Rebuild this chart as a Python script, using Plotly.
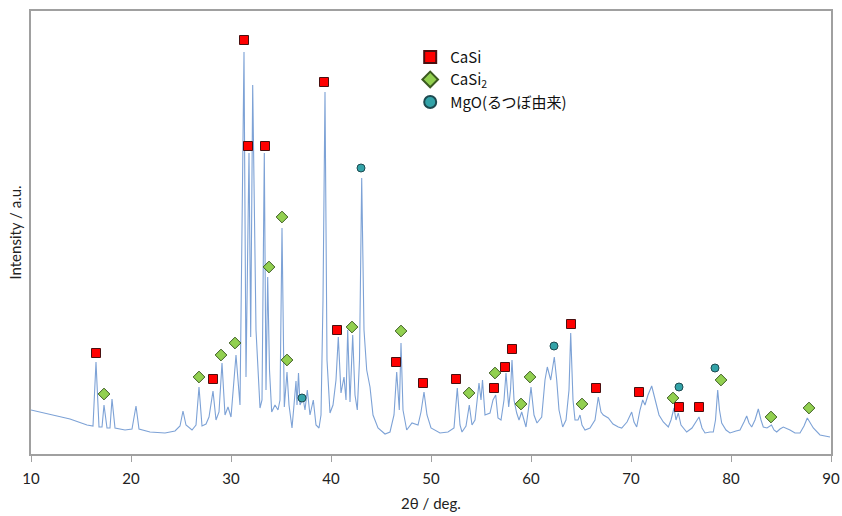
import plotly.graph_objects as go

# XRD pattern (2θ in deg, intensity in a.u.)
two_theta = [10.0, 10.9, 12.4, 13.9, 15.6, 16.2, 16.5, 16.8, 17.1, 17.3, 17.6, 17.9, 18.1, 18.4, 19.4, 20.1, 20.5, 20.8,
             21.9, 23.4, 24.4, 24.9, 25.2, 25.5, 26.1, 26.5, 26.8, 27.1, 27.5, 27.8, 28.2, 28.5, 28.8, 29.1, 29.4, 29.7,
             30.0, 30.5, 30.9, 31.3, 31.5, 31.8, 31.97, 32.17, 32.5, 32.9, 33.1, 33.33, 33.5, 33.67, 33.85, 34.07, 34.4,
             34.7, 34.9, 35.1, 35.33, 35.6, 35.8, 36.1, 36.3, 36.5, 36.6, 36.75, 36.9, 37.2, 37.4, 37.63, 37.9, 38.23,
             38.5, 38.8, 39.0, 39.2, 39.4, 39.6, 39.9, 40.2, 40.5, 40.73, 41.0, 41.3, 41.5, 41.67, 41.9, 42.17, 42.4,
             42.63, 42.85, 43.07, 43.3, 43.57, 43.9, 44.2, 44.7, 45.4, 45.9, 46.3, 46.57, 46.83, 47.0, 47.2, 47.57, 48.1,
             48.7, 49.0, 49.3, 49.6, 50.0, 50.9, 51.7, 52.3, 52.63, 52.9, 53.1, 53.5, 53.83, 54.1, 54.4, 54.8, 55.0,
             55.15, 55.4, 55.9, 56.2, 56.47, 56.7, 57.0, 57.3, 57.5, 57.77, 57.95, 58.1, 58.3, 58.57, 58.8, 59.07, 59.3,
             59.5, 59.8, 60.0, 60.3, 60.6, 61.07, 61.4, 61.63, 61.97, 62.33, 62.57, 62.8, 63.17, 63.5, 63.8, 63.97, 64.2,
             64.4, 64.7, 64.9, 65.1, 65.4, 65.9, 66.4, 66.73, 67.0, 67.23, 67.73, 68.2, 68.73, 69.07, 69.6, 70.07, 70.3,
             70.57, 70.9, 71.17, 71.4, 71.7, 72.07, 72.4, 72.8, 73.23, 73.73, 74.0, 74.3, 74.5, 74.73, 75.0, 75.57, 76.1,
             76.5, 76.8, 77.1, 77.4, 77.9, 78.23, 78.45, 78.67, 78.85, 79.07, 79.5, 79.9, 80.5, 80.9, 81.3, 81.57, 81.8,
             82.07, 82.4, 82.73, 83.0, 83.23, 83.6, 84.05, 84.3, 84.57, 84.9, 85.23, 85.9, 86.4, 86.9, 87.3, 87.63, 87.9,
             88.23, 88.9, 89.4, 89.9]
intensity = [44, 42, 39, 35, 29, 28, 92, 27, 27, 49, 26, 26, 55, 26, 24, 25, 48, 25,
             22, 21, 23, 28, 43, 29, 24, 29, 67, 28, 30, 37, 63, 34, 42, 91, 39, 47,
             37, 99, 49, 402, 77, 301, 117, 369, 124, 46, 54, 301, 64, 177, 84, 42, 49,
             44, 54, 226, 47, 82, 49, 26, 49, 73, 49, 81, 49, 56, 44, 64, 39, 54,
             29, 26, 39, 154, 362, 94, 41, 49, 74, 117, 61, 77, 54, 124, 52, 119, 59,
             44, 94, 276, 124, 84, 67, 39, 26, 20, 22, 39, 82, 44, 111, 44, 24, 31,
             29, 42, 62, 39, 26, 21, 22, 26, 66, 29, 22, 28, 49, 29, 34, 71, 54,
             74, 39, 41, 54, 59, 36, 34, 54, 81, 47, 64, 94, 54, 41, 34, 42, 34,
             27, 49, 67, 39, 31, 37, 74, 87, 74, 97, 74, 44, 27, 34, 64, 121, 54,
             34, 34, 39, 29, 24, 26, 34, 57, 42, 39, 36, 30, 27, 26, 32, 42, 32,
             27, 44, 54, 49, 59, 68, 54, 39, 32, 27, 34, 46, 34, 41, 29, 22, 26,
             32, 37, 26, 21, 22, 22, 34, 64, 44, 31, 24, 21, 23, 24, 32, 38, 31,
             27, 34, 45, 34, 27, 26, 29, 24, 22, 25, 27, 24, 21, 21, 28, 36, 31,
             26, 19, 18, 17]

# Phase markers
casi_x = [16.5, 28.2, 31.3, 31.7, 33.4, 39.3, 40.6, 46.5, 49.2, 52.5, 56.3, 57.4, 58.1, 64.0, 66.5, 70.8, 74.8, 76.8]
casi_y = [101, 75, 414, 308, 308, 372, 124, 92, 71, 75, 66, 87, 105, 130, 66, 62, 47, 47]

casi2_x = [17.3, 26.8, 29.0, 30.4, 33.8, 35.1, 35.6, 42.1, 47.0, 53.8, 56.4, 59.0, 59.9, 65.1, 74.2, 79.0, 84.0, 87.8]
casi2_y = [60, 77, 99, 111, 187, 237, 94, 127, 123, 61, 81, 50, 77, 50, 56, 74, 37, 46]

mgo_x = [37.1, 43.0, 62.3, 74.8, 78.4]
mgo_y = [56, 286, 108, 67, 86]

x_ticks = [10, 20, 30, 40, 50, 60, 70, 80, 90]

fig = go.Figure()
fig.add_trace(go.Scatter(x=two_theta, y=intensity, mode="lines",
                         line=dict(color="#7da2d6", width=1.1), showlegend=False, hoverinfo="skip"))
fig.add_trace(go.Scatter(x=casi_x, y=casi_y, mode="markers", name="CaSi",
                         marker=dict(symbol="square", size=9, color="#ff0000",
                                     line=dict(color="#4a1010", width=1))))
fig.add_trace(go.Scatter(x=casi2_x, y=casi2_y, mode="markers", name="CaSi<sub>2</sub>",
                         marker=dict(symbol="diamond", size=9, color="#92d050",
                                     line=dict(color="#3b5a20", width=1))))
fig.add_trace(go.Scatter(x=mgo_x, y=mgo_y, mode="markers", name="MgO(るつぼ由来)",
                         marker=dict(symbol="circle", size=8, color="#33a3a8",
                                     line=dict(color="#1d4a50", width=1))))

fig.update_layout(
    width=842, height=516,
    margin=dict(l=31, r=11, t=11, b=62),
    paper_bgcolor="white", plot_bgcolor="white",
    font=dict(family="Lato, Noto Sans CJK JP", size=15, color="#222"),
    legend=dict(x=0.474, y=0.933, xanchor="left", yanchor="top", itemwidth=30,
                bgcolor="rgba(0,0,0,0)", tracegroupgap=0, itemsizing="constant",
                font=dict(family="Noto Sans CJK JP", size=15, color="#111")),
    xaxis=dict(range=[10, 90], tickvals=x_ticks, ticks="outside", ticklen=6,
               tickcolor="#a0a0a0", showline=True, linecolor="#a0a0a0", linewidth=2,
               mirror=True, showgrid=False, zeroline=False, automargin=False,
               ticklabelstandoff=4,
               title=dict(text="2θ / deg.", standoff=12, font=dict(size=15)),
               tickfont=dict(size=15)),
    yaxis=dict(range=[0, 443], showticklabels=False, ticks="", showline=True,
               linecolor="#a0a0a0", linewidth=2, mirror=True, showgrid=False, zeroline=False,
               automargin=False,
               title=dict(text="Intensity / a.u.", standoff=4, font=dict(size=15))),
)

# remove the page's default body margin and scrollbars so the figure fills the window exactly
fig.write_html("out.html", config={"displayModeBar": False},
               post_script="document.body.style.margin='0';document.body.style.overflow='hidden';")
